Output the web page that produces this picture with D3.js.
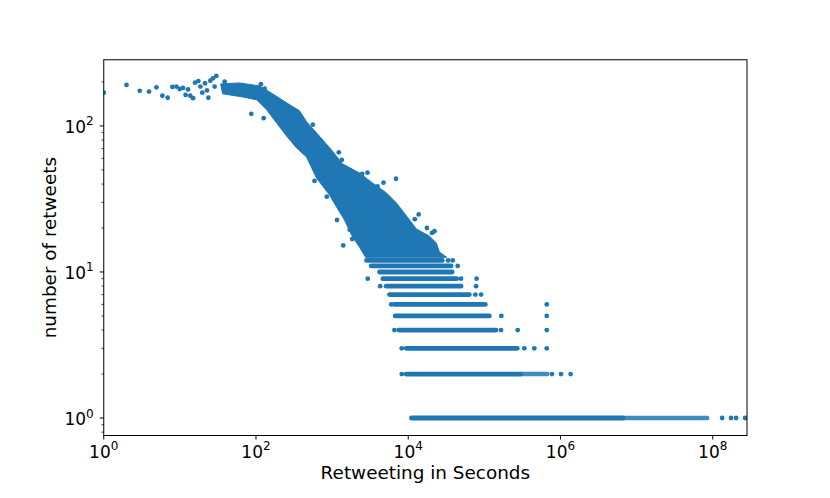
<!DOCTYPE html>
<html>
<head>
<meta charset="utf-8">
<script src="https://cdn.jsdelivr.net/npm/d3@7"></script>
<style>
body{margin:0;background:#fff}
text{font-family:"DejaVu Sans",sans-serif;fill:#000}
</style>
</head>
<body>
<div id="vis"></div>
<script>
var width = 830
var height = 498

//axes ticks and labels
var xTicks = [1, 1e2, 1e4, 1e6, 1e8]
var yTicks = [1, 10, 100]
var xLabel = "Retweeting in Seconds"
var yLabel = "number of retweets"

//integer retweet counts that form dense horizontal rows (start / end in seconds)
var bandY     = [1,     2,      3,      4,      5,      6,     7,     8,     9,     10,    11,    12]
var bandStart = [11020, 9380,   9380,   7500,   6730,   6590,  5670,  5130,  4630,  4190,  3260,  2830]
var bandEnd   = [6.63e6, 3.0e5, 2.71e5, 1.425e5, 1.164e5, 1.03e5, 63500, 49400, 43300, 37700, 36600, 28100]

//thinner tails where the rows break up into single dots
var tailY     = [1,      2]
var tailStart = [6.63e6, 3.0e5]
var tailEnd   = [8.45e7, 6.71e5]

//outline of the dense cloud above 13 retweets
var cloudUpper = [[34.3,194],[61,197],[111,188],[165,166],[252,144],[373,127],[461,107],[683,85],
                  [982,68.5],[1368,55],[2290,47.6],[3390,40.7],[5170,34.8],[7000,29.7],[9470,24.2],
                  [12800,19.7],[19000,17.6],[23400,15.8],[25700,13.7],[32000,12.6]]
var cloudLower = [[2750,12.6],[2290,14.8],[1853,17.4],[1455,22.7],[1142,27.9],[925,33.7],[624,44],
                  [461,61.3],[341,70.7],[252,85.4],[186,105],[138,129],[102,151],[66.7,158],[36.5,166]]

//single tweets that stand apart
var sparsePoints = [
  [1,169],[1.99,191],[2.97,174],[3.93,172],[4.92,184],[5.89,161],[6.92,156],[7.97,185],[9.0,186],
  [9.94,179],[11.0,182],[11.9,163],[12.8,178],[13.7,161],[14.9,155],[15.8,198],[17.5,203],[18.6,186],
  [19.7,169],[21.4,196],[22.7,175],[23.7,156],[25.1,204],[27.2,212],[30.1,220],[28.6,186],[38.7,201],
  [86.7,121],[116,193],[130,180],[126,113],[344,116],[558,102],[1224,66],[1341,58.5],[2484,46.9],
  [2915,47.9],[4730,40.9],[13700,24.8],[22100,19.0],[852,32.8],[587,42],[1836,16.8],
  [6900,43.5],[12200,23.0],[17600,20.0],[20500,18.5],[1700,19.5],[1160,22.7],[1400,15.2],[3950,38.6],
  [1.33e8,1],[1.74e8,1],[2.03e8,1],[2.66e8,1],
  [8220,2],[7.73e5,2],[1.016e6,2],[1.358e6,2],
  [8220,3],[3.35e5,3],[4.53e5,3],[6.6e5,3],
  [6590,4],[1.656e5,4],[2.74e5,4],[6.6e5,4],
  [1.67e5,5],[6.6e5,5],
  [5970,6],[6.6e5,6],
  [76200,7],[90600,7],
  [4280,8],[77800,8],
  [2940,9],[49400,9],[79200,9],
  [44600,11],
  [33400,12],[38400,12]
]

var color = "#1f77b4"
var dotR = 2.4

var plotLeft = 103.75, plotRight = 747, plotTop = 59.75, plotBottom = 435.5

var svg = d3.select('#vis').append('svg')
  .attr('width', width)
  .attr('height', height)

var x = d3.scaleLog().domain([1, 2.82e8]).range([plotLeft, plotRight])
var y = d3.scaleLog().domain([0.759, 284]).range([plotBottom, plotTop])

svg.append('clipPath').attr('id', 'plotclip')
  .append('rect')
  .attr('x', plotLeft).attr('y', plotTop)
  .attr('width', plotRight - plotLeft).attr('height', plotBottom - plotTop)

var plot = svg.append('g').attr('clip-path', 'url(#plotclip)')

//dense cloud
var cloud = cloudUpper.concat(cloudLower)
plot.append('path')
  .attr('d', d3.line().x(function(d){return x(d[0])}).y(function(d){return y(d[1])}).curve(d3.curveLinearClosed)(cloud))
  .attr('fill', color)
  .attr('stroke', color)
  .attr('stroke-width', 1)
  .attr('stroke-linejoin', 'round')

//dense rows
plot.selectAll('line.band')
  .data(bandY)
  .enter()
  .append('line')
  .attr('class', 'band')
  .attr('x1', function(d, i){return x(bandStart[i])})
  .attr('x2', function(d, i){return x(bandEnd[i])})
  .attr('y1', function(d){return y(d)})
  .attr('y2', function(d){return y(d)})
  .attr('stroke', color)
  .attr('stroke-width', dotR * 2)
  .attr('stroke-linecap', 'round')

//row tails, a bit lighter
plot.selectAll('line.tail')
  .data(tailY)
  .enter()
  .append('line')
  .attr('class', 'tail')
  .attr('x1', function(d, i){return x(tailStart[i])})
  .attr('x2', function(d, i){return x(tailEnd[i])})
  .attr('y1', function(d){return y(d)})
  .attr('y2', function(d){return y(d)})
  .attr('stroke', color)
  .attr('stroke-opacity', 0.85)
  .attr('stroke-width', dotR * 1.9)
  .attr('stroke-linecap', 'round')

//isolated points
plot.selectAll('circle')
  .data(sparsePoints)
  .enter()
  .append('circle')
  .attr('cx', function(d){return x(d[0])})
  .attr('cy', function(d){return y(d[1])})
  .attr('r', dotR)
  .attr('fill', color)

//frame
svg.append('rect')
  .attr('x', plotLeft).attr('y', plotTop)
  .attr('width', plotRight - plotLeft).attr('height', plotBottom - plotTop)
  .attr('fill', 'none')
  .attr('stroke', '#000')
  .attr('stroke-width', 1)

//x ticks
var xt = svg.selectAll('g.xtick').data(xTicks).enter().append('g')
  .attr('transform', function(d){return 'translate(' + x(d) + ',' + plotBottom + ')'})
xt.append('line').attr('y2', 4).attr('stroke', '#000').attr('stroke-width', 1)
var xtt = xt.append('text').attr('y', 22).attr('text-anchor', 'middle').style('font-size', '17px')
xtt.append('tspan').text('10')
xtt.append('tspan').attr('dy', -7.5).style('font-size', '12px').text(function(d){return Math.round(Math.log10(d))})

//y minor ticks
var yMinor = []
yTicks.concat([0.1]).forEach(function(t){
  for (var k = 2; k < 10; k++){
    var v = t * k
    if (v > 0.759 && v < 284) yMinor.push(v)
  }
})
svg.selectAll('line.yminor').data(yMinor).enter().append('line')
  .attr('x1', plotLeft - 2.2).attr('x2', plotLeft)
  .attr('y1', function(d){return y(d)}).attr('y2', function(d){return y(d)})
  .attr('stroke', '#000').attr('stroke-width', 0.8)

//y ticks
var yt = svg.selectAll('g.ytick').data(yTicks).enter().append('g')
  .attr('transform', function(d){return 'translate(' + plotLeft + ',' + y(d) + ')'})
yt.append('line').attr('x1', -4).attr('stroke', '#000').attr('stroke-width', 1)
var ytt = yt.append('text').attr('x', -10).attr('y', 7).attr('text-anchor', 'end').style('font-size', '17px')
ytt.append('tspan').text('10')
ytt.append('tspan').attr('dy', -7.5).style('font-size', '12px').text(function(d){return Math.round(Math.log10(d))})

//axis labels
svg.append('text')
  .attr('x', (plotLeft + plotRight) / 2).attr('y', 478.5)
  .attr('text-anchor', 'middle')
  .style('font-size', '18.4px')
  .text(xLabel)

svg.append('text')
  .attr('transform', 'translate(55.5,' + ((plotTop + plotBottom) / 2) + ') rotate(-90)')
  .attr('text-anchor', 'middle')
  .style('font-size', '18.4px')
  .text(yLabel)
</script>
</body>
</html>
